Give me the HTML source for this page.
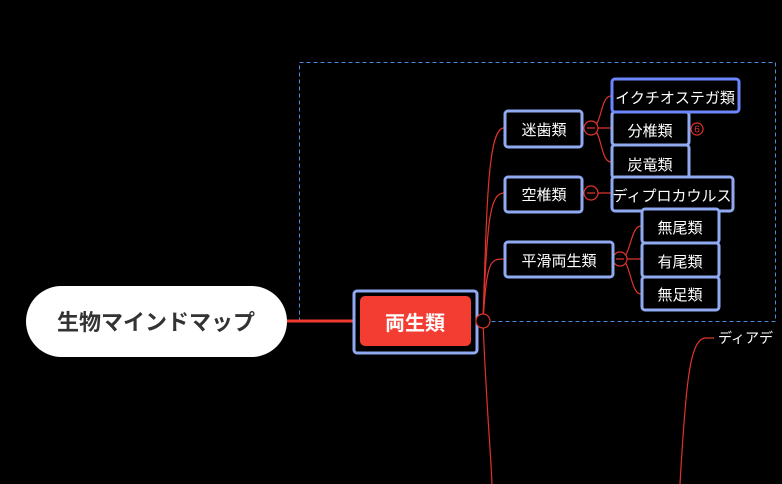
<!DOCTYPE html>
<html><head><meta charset="utf-8"><style>
html,body{margin:0;background:#000;width:782px;height:484px;overflow:hidden}
text{font-family:"Liberation Sans","Noto Sans CJK JP",sans-serif}
</style></head><body>
<svg width="782" height="484" viewBox="0 0 782 484" xmlns="http://www.w3.org/2000/svg">
<rect x="299.5" y="62.5" width="476" height="259" fill="none" stroke="#4a8be0" stroke-dasharray="4,3"/>
<g fill="none" stroke="#e0332b" stroke-width="1.2">
<path d="M483 321 C487 200 488 128 504 128 H512"/>
<path d="M483 321 C487 220 490 193 504 193 H512"/>
<path d="M483 321 C487 260 490 259 504 259 H512"/>
<path d="M483 321 C486 400 490 440 492 484"/>
<path d="M680 484 C686 380 690 338 706 338 H714"/>
<path d="M591 128 C602 128 600 96 611 96 H618"/>
<path d="M591 128 H618"/>
<path d="M591 128 C602 128 600 162 611 162 H618"/>
<path d="M598 193 H618"/>
<path d="M620 259 C631 259 630 226 641 226 H648"/>
<path d="M627 259 H648"/>
<path d="M620 259 C631 259 630 294 641 294 H648"/>
<path d="M582 128 H588 M582 193 H588 M613 259 H616"/>
</g>
<line x1="287" y1="321" x2="356" y2="321" stroke="#f03a30" stroke-width="3"/>
<rect x="26" y="286" width="261" height="71" rx="35.5" fill="#fff"/>
<text x="156" y="330" font-size="22" font-weight="bold" fill="#333" text-anchor="middle">生物マインドマップ</text>
<rect x="354" y="291" width="123" height="62" rx="3" fill="#000" stroke="#8faaf0" stroke-width="3"/>
<rect x="360" y="296" width="111" height="50" rx="5" fill="#f43d32"/>
<text x="415" y="330" font-size="20" font-weight="bold" fill="#fff" text-anchor="middle">両生類</text>
<g fill="#000" stroke="#e0332b" stroke-width="1.2">
<circle cx="483" cy="321" r="7"/><circle cx="591" cy="128" r="7"/><circle cx="591" cy="193" r="7"/><circle cx="620" cy="259" r="7"/>
<circle cx="697" cy="129" r="6"/>
</g>
<g stroke="#e0332b" stroke-width="1.2"><path d="M587 128h8M587 193h8M616 259h8"/></g>
<text x="697" y="132.5" font-size="10" fill="#e0332b" text-anchor="middle">6</text>
<g fill="#000" stroke="#8faaf0" stroke-width="3">
<rect x="505" y="111" width="77" height="36" rx="3"/>
<rect x="505" y="177" width="77" height="35" rx="3"/>
<rect x="505" y="242" width="108" height="35" rx="3"/>
<rect x="612" y="112" width="77" height="33" rx="3"/>
<rect x="612" y="145" width="77" height="33" rx="3"/>
<rect x="612" y="177" width="121" height="34" rx="3"/>
<rect x="642" y="209" width="77" height="34" rx="3"/>
<rect x="642" y="243" width="77" height="34" rx="3"/>
<rect x="642" y="277" width="77" height="33" rx="3"/>
<rect x="612" y="79" width="127" height="33" rx="3" stroke="#6b86ff"/>
</g>
<g font-size="15" fill="#fff" text-anchor="middle">
<text x="544" y="135">迷歯類</text>
<text x="544" y="200">空椎類</text>
<text x="559" y="266">平滑両生類</text>
<text x="675" y="103">イクチオステガ類</text>
<text x="650" y="136">分椎類</text>
<text x="650" y="170">炭竜類</text>
<text x="672" y="201">ディプロカウルス</text>
<text x="680" y="233">無尾類</text>
<text x="680" y="267">有尾類</text>
<text x="680" y="300">無足類</text>
</g>
<text x="718" y="343" font-size="14" fill="#fff">ディアデ</text>
</svg>
</body></html>
